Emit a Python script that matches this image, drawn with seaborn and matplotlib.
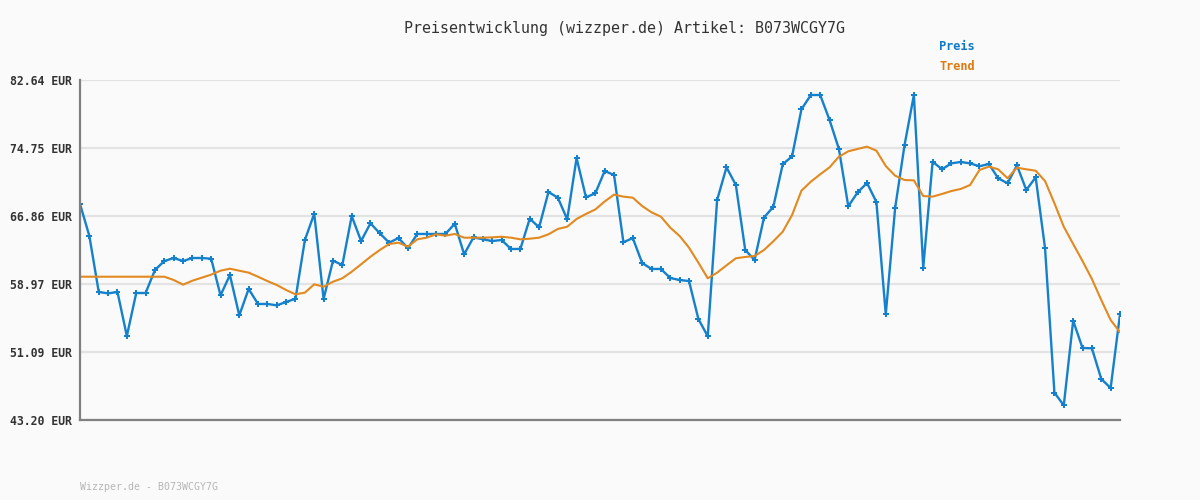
import matplotlib
matplotlib.use("Agg")
import matplotlib.pyplot as plt
import seaborn as sns
import pandas as pd

# ---- data ----
preis = [68.26, 64.54, 58.05, 57.89, 58.05, 52.94, 57.93, 57.93, 60.60, 61.64,
         61.99, 61.64, 61.99, 61.99, 61.91, 57.66, 60.02, 55.34, 58.40, 56.66,
         56.66, 56.50, 56.89, 57.27, 64.08, 67.13, 57.24, 61.68, 61.18, 66.86,
         63.96, 66.02, 64.85, 63.77, 64.31, 63.12, 64.78, 64.78, 64.78, 64.78,
         65.97, 62.42, 64.39, 64.16, 63.96, 64.08, 63.04, 63.04, 66.55, 65.55,
         69.65, 68.99, 66.48, 73.59, 69.03, 69.50, 72.08, 71.62, 63.81, 64.31,
         61.41, 60.72, 60.72, 59.67, 59.44, 59.32, 54.92, 52.91, 68.72, 72.51,
         70.46, 62.92, 61.76, 66.67, 67.94, 72.86, 73.79, 79.24, 80.90, 80.90,
         78.00, 74.64, 67.99, 69.61, 70.69, 68.49, 55.46, 67.79, 75.06, 80.90,
         60.87, 73.17, 72.28, 72.97, 73.13, 72.97, 72.63, 72.90, 71.24, 70.66,
         72.74, 69.88, 71.35, 63.12, 46.37, 44.90, 54.72, 51.55, 51.52, 47.96,
         46.91, 55.46]

trend = [59.82, 59.82, 59.82, 59.82, 59.82, 59.82, 59.82, 59.82, 59.82, 59.82,
         59.44, 58.90, 59.36, 59.71, 60.06, 60.52, 60.75, 60.52, 60.29, 59.82,
         59.32, 58.86, 58.28, 57.78, 57.97, 58.94, 58.66, 59.24, 59.64, 60.40,
         61.26, 62.14, 62.92, 63.62, 63.77, 63.30, 64.16, 64.35, 64.74, 64.58,
         64.78, 64.35, 64.35, 64.35, 64.39, 64.46, 64.35, 64.16, 64.23, 64.35,
         64.74, 65.36, 65.62, 66.52, 67.10, 67.62, 68.55, 69.34, 69.11, 68.99,
         68.02, 67.29, 66.79, 65.51, 64.54, 63.19, 61.45, 59.64, 60.29, 61.14,
         61.96, 62.11, 62.22, 62.92, 63.93, 65.04, 66.98, 69.80, 70.84, 71.70,
         72.51, 73.75, 74.37, 74.64, 74.91, 74.44, 72.66, 71.54, 71.04, 71.00,
         69.18, 69.11, 69.42, 69.76, 70.00, 70.46, 72.20, 72.59, 72.28, 71.24,
         72.47, 72.28, 72.12, 70.92, 68.34, 65.62, 63.62, 61.64, 59.56, 57.12,
         54.80, 53.37]

y_ticks = [43.20, 51.09, 58.97, 66.86, 74.75, 82.64]
title = "Preisentwicklung (wizzper.de) Artikel: B073WCGY7G"
series_names = ["Preis", "Trend"]
footer = "Wizzper.de - B073WCGY7G"

# ---- style ----
BG = "#fafafa"
BLUE = "#1580cc"
ORANGE = "#e2891f"
sns.set_style("white")
plt.rcParams["font.family"] = ["DejaVu Sans Mono", "DejaVu Sans"]

df = pd.DataFrame({"idx": range(len(preis)), "Preis": preis, "Trend": trend})

fig = plt.figure(figsize=(12, 5), dpi=100, facecolor=BG)
ax = fig.add_axes([80 / 1200, 80 / 500, 1040 / 1200, 340 / 500])
ax.set_facecolor(BG)

sns.lineplot(data=df, x="idx", y="Preis", color=BLUE, linewidth=1.7,
             marker="P", markersize=4.2, markeredgewidth=0, ax=ax, zorder=3)
sns.lineplot(data=df, x="idx", y="Trend", color=ORANGE, linewidth=1.5,
             ax=ax, zorder=4)

ax.set_xlim(0, len(preis) - 1)
ax.set_ylim(y_ticks[0], y_ticks[-1])
ax.set_yticks(y_ticks)
ax.set_yticklabels([f"{v:.2f} EUR" for v in y_ticks], fontsize=8.3,
                   fontweight="bold", color="#333333")
ax.set_xticks([])
ax.set_xlabel("")
ax.set_ylabel("")
ax.tick_params(axis="y", length=0, pad=6)
ax.grid(axis="y", color="#e3e3e3", linewidth=1.6)
ax.set_axisbelow(True)
for s in ["top", "right"]:
    ax.spines[s].set_visible(False)
for s in ["left", "bottom"]:
    ax.spines[s].set_color("#808080")
    ax.spines[s].set_linewidth(1.6)
    ax.spines[s].set_zorder(5)
if ax.get_legend():
    ax.get_legend().remove()

fig.text(624 / 1200, 1 - 28 / 500, title, ha="center", va="center",
         fontsize=10.8, color="#333333")
fig.text(939 / 1200, 1 - 47 / 500, series_names[0], ha="left", va="center",
         fontsize=8.6, fontweight="bold", color="#1078c8")
fig.text(939 / 1200, 1 - 67 / 500, series_names[1], ha="left", va="center",
         fontsize=8.6, fontweight="bold", color="#dd7a10")
fig.text(80 / 1200, 1 - 487 / 500, footer, ha="left", va="center",
         fontsize=7.1, color="#b5b5b5")

fig.savefig("out.png", dpi=100, facecolor=BG)
